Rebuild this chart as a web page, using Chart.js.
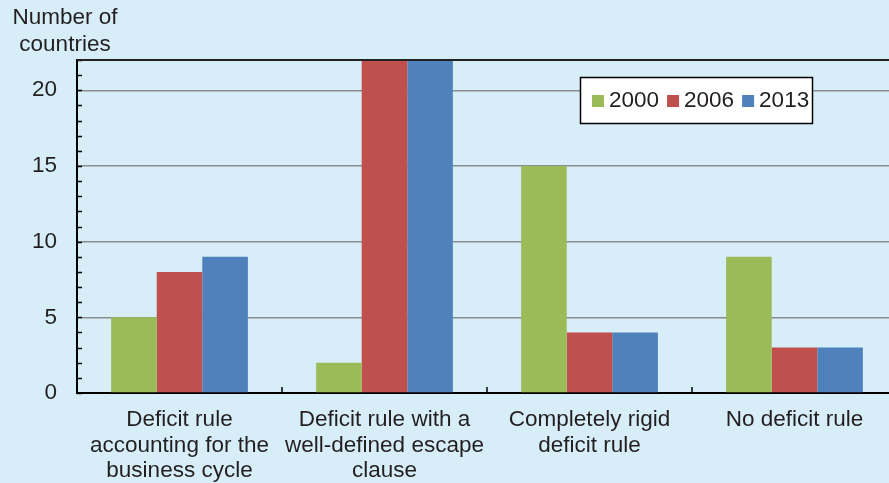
<!DOCTYPE html>
<html>
<head>
<meta charset="utf-8">
<script src="https://cdn.jsdelivr.net/npm/chart.js@4/dist/chart.umd.min.js"></script>
<style>
  html, body { margin: 0; padding: 0; background: #d7eef9; overflow: hidden; }
  #wrap { position: relative; width: 905px; height: 483px; }
  #yTitle {
    position: absolute; left: 4px; top: 3px; width: 122px;
    font: 22.5px "Liberation Sans", Arial, sans-serif; color: #231f20;
    text-align: center; line-height: 27px;
  }
</style>
</head>
<body>
<div id="wrap">
  <canvas id="c" width="905" height="483"></canvas>
  <div id="yTitle">Number of<br>countries</div>
</div>
<script>
const categories = [
  ["Deficit rule", "accounting for the", "business cycle"],
  ["Deficit rule with a", "well-defined escape", "clause"],
  ["Completely rigid", "deficit rule"],
  ["No deficit rule"]
];
const seriesNames = ["2000", "2006", "2013"];
const values2000 = [5, 2, 15, 9];
const values2006 = [8, 22, 4, 3];
const values2013 = [9, 22, 4, 3];
const yTickLabels = [0, 5, 10, 15, 20];
const colors = ["#9bbb59", "#c0504d", "#4f81bd"];

const FONT = '"Liberation Sans", Arial, sans-serif';
const TEXT = "#231f20";

// Inward minor ticks on the value axis, boundary ticks on the category axis,
// the top frame line and the boxed legend inside the plot.
const decorations = {
  id: "decorations",
  afterDraw(chart) {
    const ctx = chart.ctx;
    const { left, right, top, bottom } = chart.chartArea;
    const y = chart.scales.y, x = chart.scales.x;
    ctx.save();
    ctx.strokeStyle = "#000";
    ctx.lineWidth = 1.5;
    for (let v = y.min; v <= y.max; v++) {
      const py = Math.round(y.getPixelForValue(v)) + 0.5;
      ctx.beginPath(); ctx.moveTo(left, py); ctx.lineTo(left + 5, py); ctx.stroke();
    }
    for (let i = 0; i < categories.length - 1; i++) {
      const px = Math.round((x.getPixelForTick(i) + x.getPixelForTick(i + 1)) / 2);
      ctx.beginPath(); ctx.moveTo(px, bottom); ctx.lineTo(px, bottom - 6); ctx.stroke();
    }
    // top frame
    ctx.strokeStyle = "#222";
    ctx.lineWidth = 2;
    ctx.beginPath(); ctx.moveTo(left, top); ctx.lineTo(right, top); ctx.stroke();

    // legend box
    const bx = 580, by = 77, bw = 232, bh = 46;
    ctx.fillStyle = "#fff";
    ctx.fillRect(bx, by, bw, bh);
    ctx.strokeStyle = "#000";
    ctx.lineWidth = 1.5;
    ctx.strokeRect(bx + 0.5, by + 0.5, bw, bh);
    ctx.font = "22.5px " + FONT;
    ctx.textBaseline = "middle";
    ctx.textAlign = "left";
    let cx = bx + 12;
    const cy = by + bh / 2 + 1;
    chart.data.datasets.forEach(ds => {
      ctx.fillStyle = ds.backgroundColor;
      ctx.fillRect(cx, cy - 6, 12, 12);
      ctx.fillStyle = TEXT;
      ctx.fillText(ds.label, cx + 17, cy);
      cx += 17 + ctx.measureText(ds.label).width + 8;
    });
    ctx.restore();
  }
};

new Chart(document.getElementById("c"), {
  type: "bar",
  data: {
    labels: categories,
    datasets: [
      { label: seriesNames[0], data: values2000, backgroundColor: colors[0] },
      { label: seriesNames[1], data: values2006, backgroundColor: colors[1] },
      { label: seriesNames[2], data: values2013, backgroundColor: colors[2] }
    ]
  },
  options: {
    responsive: false,
    animation: false,
    devicePixelRatio: 1,
    layout: { padding: { left: 0, top: 60, right: 8, bottom: 0 } },
    datasets: { bar: { categoryPercentage: 0.667, barPercentage: 1.0, borderWidth: 0 } },
    plugins: { legend: { display: false }, tooltip: { enabled: false } },
    scales: {
      x: {
        grid: { display: false, drawTicks: false, tickLength: 0 },
        border: { display: true, color: "#000", width: 2 },
        ticks: {
          color: TEXT, font: { family: FONT, size: 22.5, lineHeight: 1.14 },
          padding: 14, maxRotation: 0, autoSkip: false
        },
        afterFit(scale) { scale.height = 90; }
      },
      y: {
        min: 0, max: 22,
        grid: {
          drawTicks: false, tickLength: 0, lineWidth: 1.5,
          color: c => (c.tick && c.tick.value > 0 && yTickLabels.includes(c.tick.value)) ? "#8c8c8c" : "rgba(0,0,0,0)"
        },
        border: { display: true, color: "#000", width: 2 },
        ticks: {
          stepSize: 1, autoSkip: false, padding: 20,
          color: TEXT, font: { family: FONT, size: 22.5 },
          callback: v => yTickLabels.includes(v) ? String(v) : ""
        },
        afterFit(scale) { scale.width = 77; }
      }
    }
  },
  plugins: [decorations]
});
</script>
</body>
</html>
